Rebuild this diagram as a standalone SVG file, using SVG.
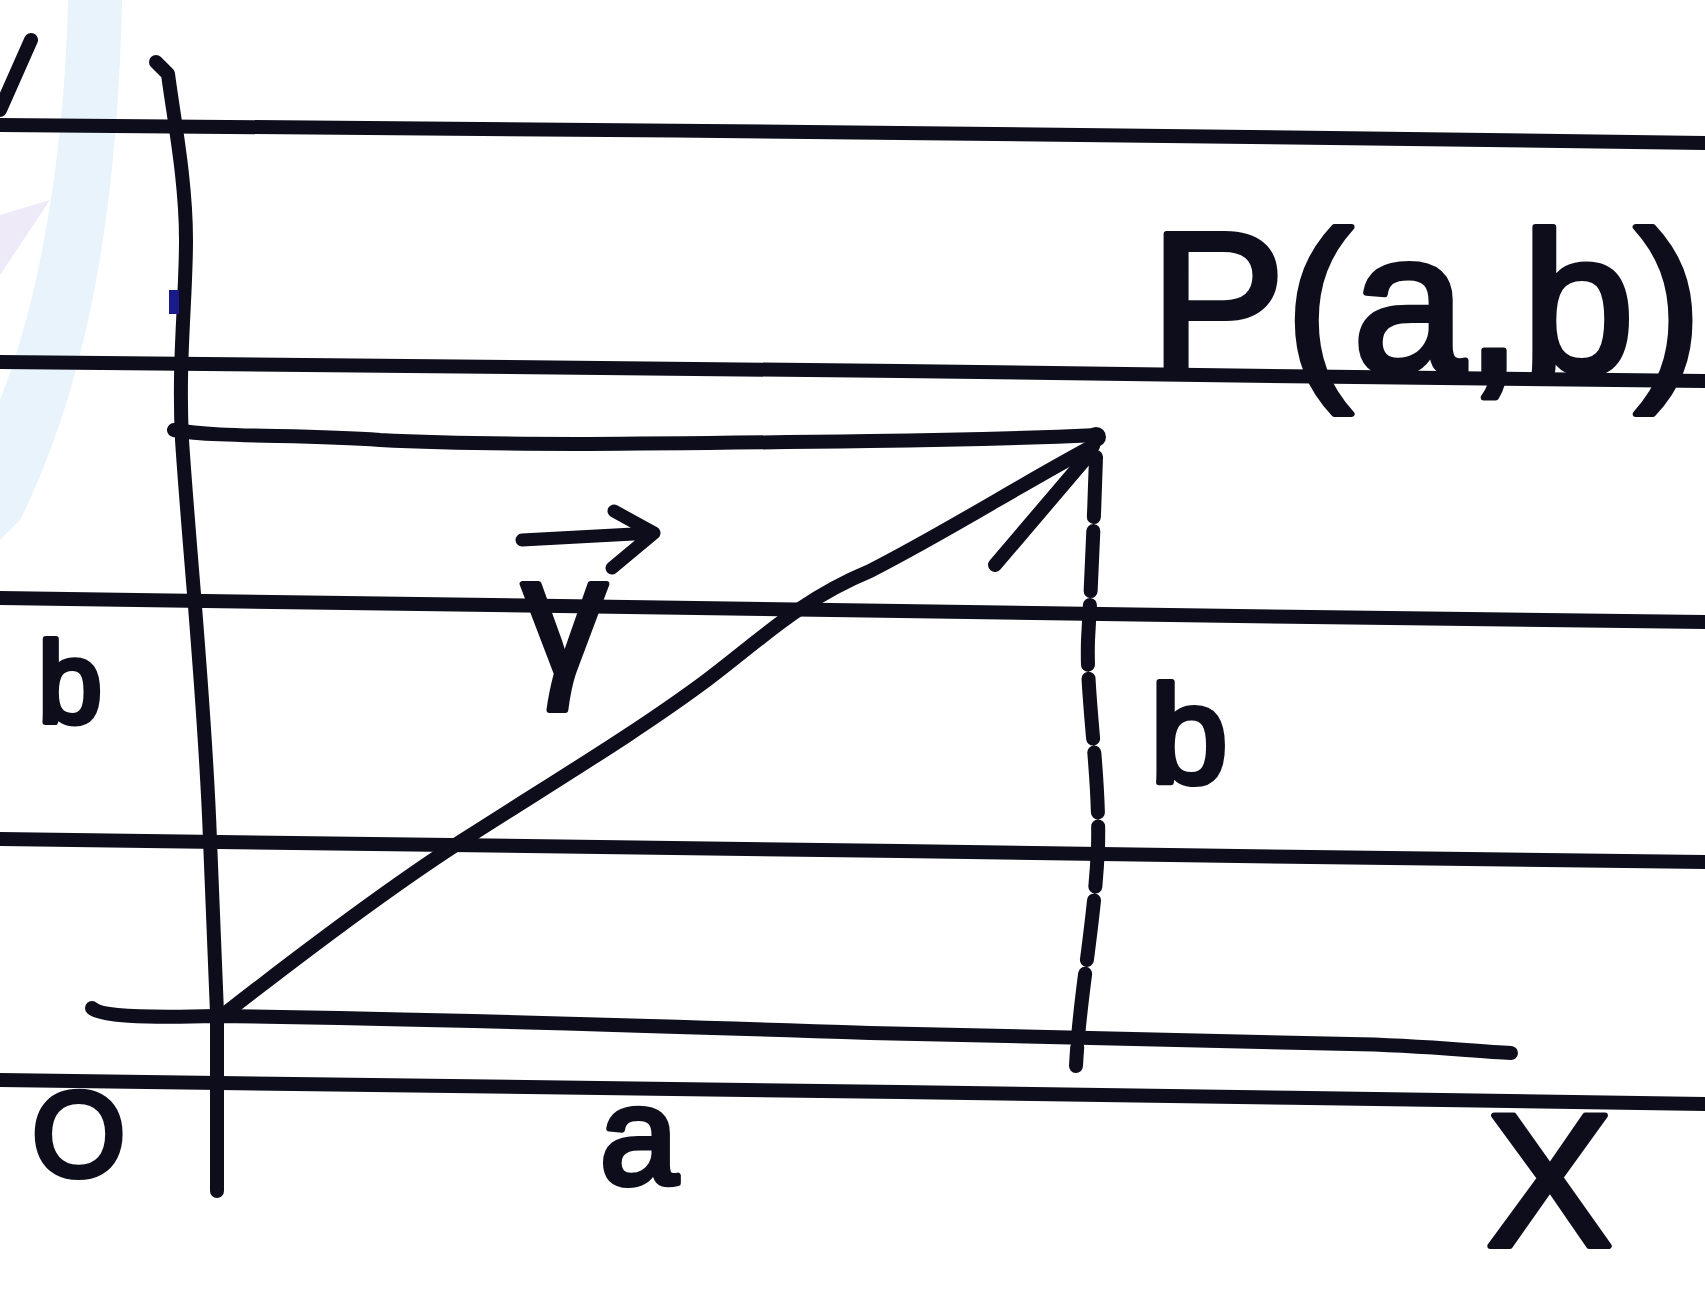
<svg xmlns="http://www.w3.org/2000/svg" width="1705" height="1290" viewBox="0 0 1705 1290">
<style>
.ink{fill:none;stroke:#0d0d1c;stroke-linecap:round;stroke-linejoin:round}
.rule{stroke-width:14}
.axis{stroke-width:14}
.lbl{font-family:"Liberation Sans","DejaVu Sans",sans-serif;fill:#0d0d1c;stroke:#0d0d1c;stroke-width:6;stroke-linejoin:round}
</style>
<rect width="1705" height="1290" fill="#ffffff"/>
<g id="page-margin">
<path d="M68 0 L122 0 C118 200 90 380 20 520 L0 540 L0 400 C40 300 65 150 68 0 Z" fill="#e8f3fb"/>
<path d="M0 215 L50 200 L0 275 Z" fill="#eeeaf7"/>
</g>
<g id="ruled-lines" class="ink rule">
<path d="M0 125 C300 126 600 130 900 133 S1400 139 1705 143"/>
<path d="M0 362 C300 364 600 367 900 371 S1400 378 1705 381"/>
<path d="M0 598 C300 603 600 607 900 611 S1400 619 1705 622"/>
<path d="M0 839 C300 843 600 847 900 851 S1400 859 1705 862"/>
<path d="M0 1080 C300 1084 600 1088 900 1092 S1400 1100 1705 1104"/>
</g>
<g id="axes" class="ink axis">
<path id="y-axis" d="M156 62 L168 74 C174 120 186 180 186 240 C186 300 178 360 182 440 C190 560 205 700 210 840 L217 1013 L217 1191"/>
<path id="x-axis" d="M92 1008 C100 1016 140 1018 217 1016 C400 1018 600 1024 870 1033 C1050 1037 1250 1042 1350 1044 C1420 1045 1470 1051 1511 1053"/>
<rect x="169" y="290" width="10" height="24" fill="#1a1a8c" stroke="none"/>
</g>
<g id="connectors" class="ink axis">
<path id="vector-r" d="M223 1015 C300 955 400 880 468 837 C560 778 640 730 707 680 C760 640 800 600 870 571 C950 530 1020 485 1093 446"/>
<path id="vector-r-head" d="M995 565 L1087 457"/>
<path id="proj-y" d="M174 430 C220 438 300 434 380 440 C500 446 650 444 870 441 C960 440 1030 438 1098 435"/>
<path id="proj-x" d="M1096 457 C1094 520 1091 590 1088 640 C1086 700 1100 770 1098 848 C1094 930 1080 990 1076 1066" stroke-dasharray="60 14"/>
</g>
<g id="point-P">
<circle cx="1096" cy="437" r="10" fill="#0d0d1c"/>
<text class="lbl" x="1150" y="372" font-size="200" textLength="552" lengthAdjust="spacingAndGlyphs">P(a,b)</text>
</g>
<g id="label-Y"><path class="ink" stroke-width="14" d="M0 110 L31 40"/></g>
<g id="label-b-left"><text class="lbl" x="38" y="722" font-size="115">b</text></g>
<g id="label-b-right"><text class="lbl" x="1150" y="783" font-size="140">b</text></g>
<g id="label-r">
<path class="ink" stroke-width="13" d="M522 540 L652 533 M614 511 L654 533 L612 568"/>
<text class="lbl" x="522" y="675" font-size="170">γ</text>
</g>
<g id="label-O"><text class="lbl" x="32" y="1176" font-size="120">O</text></g>
<g id="label-a"><text class="lbl" x="600" y="1184" font-size="140">a</text></g>
<g id="label-X"><text class="lbl" x="1486" y="1246" font-size="190">X</text></g>
</svg>
